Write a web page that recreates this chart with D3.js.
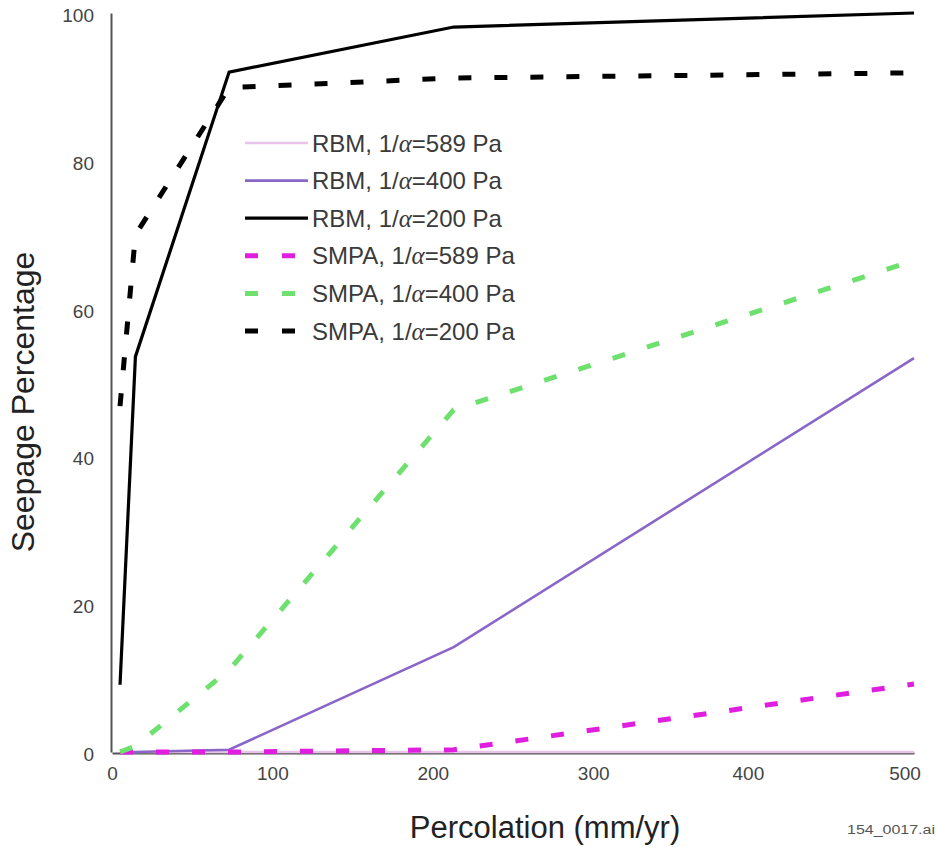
<!DOCTYPE html>
<html>
<head>
<meta charset="utf-8">
<script src="https://cdn.jsdelivr.net/npm/d3@7/dist/d3.min.js"></script>
<style>
  html, body { margin: 0; padding: 0; background: #fff; }
  svg { display: block; }
  text { font-family: "Liberation Sans", Arial, sans-serif; }
</style>
</head>
<body>
<svg id="chart" width="937" height="847"></svg>
<script>
// ---- Data ----
const percolation = [5, 14.6, 73, 213, 500];   // mm/yr
const rbm589  = [0, 0, 0, 0, 0];
const rbm400  = [0, 0, 0.3, 14.2, 53.3];
const rbm200  = [9.1, 53.5, 92.0, 98.1, 100];
const smpa589 = [0, 0, 0, 0.3, 9.2];
const smpa400 = [0, 0.8, 11.1, 46.3, 66.5];
const smpa200 = [46.8, 70.0, 89.9, 91.2, 91.9];

const seriesNames = [
  "RBM, 1/α=589 Pa", "RBM, 1/α=400 Pa", "RBM, 1/α=200 Pa",
  "SMPA, 1/α=589 Pa", "SMPA, 1/α=400 Pa", "SMPA, 1/α=200 Pa"
];
const seriesValues = [rbm589, rbm400, rbm200, smpa589, smpa400, smpa200];
const seriesColors = ["#e8c4ea", "#8a66c8", "#000000", "#e01ee0", "#6ee06e", "#000000"];
const seriesDashed = [false, false, false, true, true, true];

const xTicks = [0, 100, 200, 300, 400, 500];
const yTicks = [0, 20, 40, 60, 80, 100];

// ---- Layout ----
const svg = d3.select("#chart");
const x = d3.scaleLinear().domain([0, 500]).range([112, 914]);
const y = d3.scaleLinear().domain([0, 100]).range([752, 13]);

// Axes
const yAxis = svg.append("g")
  .attr("transform", `translate(${x(0) - 1},0)`)
  .call(d3.axisLeft(y).tickValues(yTicks).tickSize(0).tickPadding(17).tickFormat(d3.format("d")));
yAxis.select(".domain").attr("stroke", "#555").attr("stroke-width", 2);
yAxis.selectAll("text").attr("font-size", 19).attr("fill", "#444")
  .attr("font-family", "Liberation Sans, Arial, sans-serif").attr("dy", "0.45em");

const xAxis = svg.append("g")
  .attr("transform", `translate(0,${y(0) + 1})`)
  .call(d3.axisBottom(x).tickValues(xTicks).tickSize(0).tickPadding(14).tickFormat(d3.format("d")));
xAxis.select(".domain").attr("stroke", "#555").attr("stroke-width", 2);
xAxis.selectAll("text").attr("font-size", 19).attr("fill", "#444")
  .attr("font-family", "Liberation Sans, Arial, sans-serif");
// last labels sit a little inside the frame, as in the reference
xAxis.selectAll(".tick text").attr("dx", d => d === 500 ? "-0.5em" : (d === 400 ? "-0.3em" : 0));

// Lines
const line = d3.line().x(d => x(d[0])).y(d => y(d[1]));
seriesValues.forEach((vals, i) => {
  const pts = percolation.map((p, k) => [p, vals[k]]);
  svg.append("path")
    .datum(pts)
    .attr("d", line)
    .attr("fill", "none")
    .attr("stroke", seriesColors[i])
    .attr("stroke-width", seriesDashed[i] ? 5 : (i === 2 ? 3.2 : 2.6))
    .attr("stroke-dasharray", seriesDashed[i] ? "13,23" : null)
    .attr("stroke-linejoin", "miter");
});

// Legend
const legend = svg.append("g");
const legY0 = 143, legDY = 37.6;
seriesNames.forEach((name, i) => {
  const yy = legY0 + i * legDY;
  legend.append("line")
    .attr("x1", 245).attr("x2", seriesDashed[i] ? 300 : 308)
    .attr("y1", yy).attr("y2", yy)
    .attr("stroke", seriesColors[i])
    .attr("stroke-width", seriesDashed[i] ? 5 : (i === 2 ? 3.2 : 2.6))
    .attr("stroke-dasharray", seriesDashed[i] ? "13,24" : null);
  const t = legend.append("text")
    .attr("x", 312).attr("y", yy).attr("dy", "0.36em")
    .attr("font-size", 24).attr("fill", "#3a3a3a");
  const parts = name.split("α");
  t.append("tspan").text(parts[0]);
  t.append("tspan").attr("font-family", "Liberation Serif, Times New Roman, serif")
    .attr("font-style", "italic").attr("font-size", 25).text("α");
  t.append("tspan").text(parts[1]);
});

// Axis titles
svg.append("text")
  .attr("x", 545).attr("y", 838)
  .attr("text-anchor", "middle")
  .attr("font-size", 31).attr("fill", "#222")
  .text("Percolation (mm/yr)");

svg.append("text")
  .attr("transform", "translate(34,402) rotate(-90)")
  .attr("text-anchor", "middle")
  .attr("font-size", 32).attr("fill", "#222")
  .text("Seepage Percentage");

svg.append("text")
  .attr("x", 847).attr("y", 834)
  .attr("font-size", 12).attr("fill", "#555")
  .attr("textLength", 88).attr("lengthAdjust", "spacingAndGlyphs")
  .text("154_0017.ai");
</script>
</body>
</html>
